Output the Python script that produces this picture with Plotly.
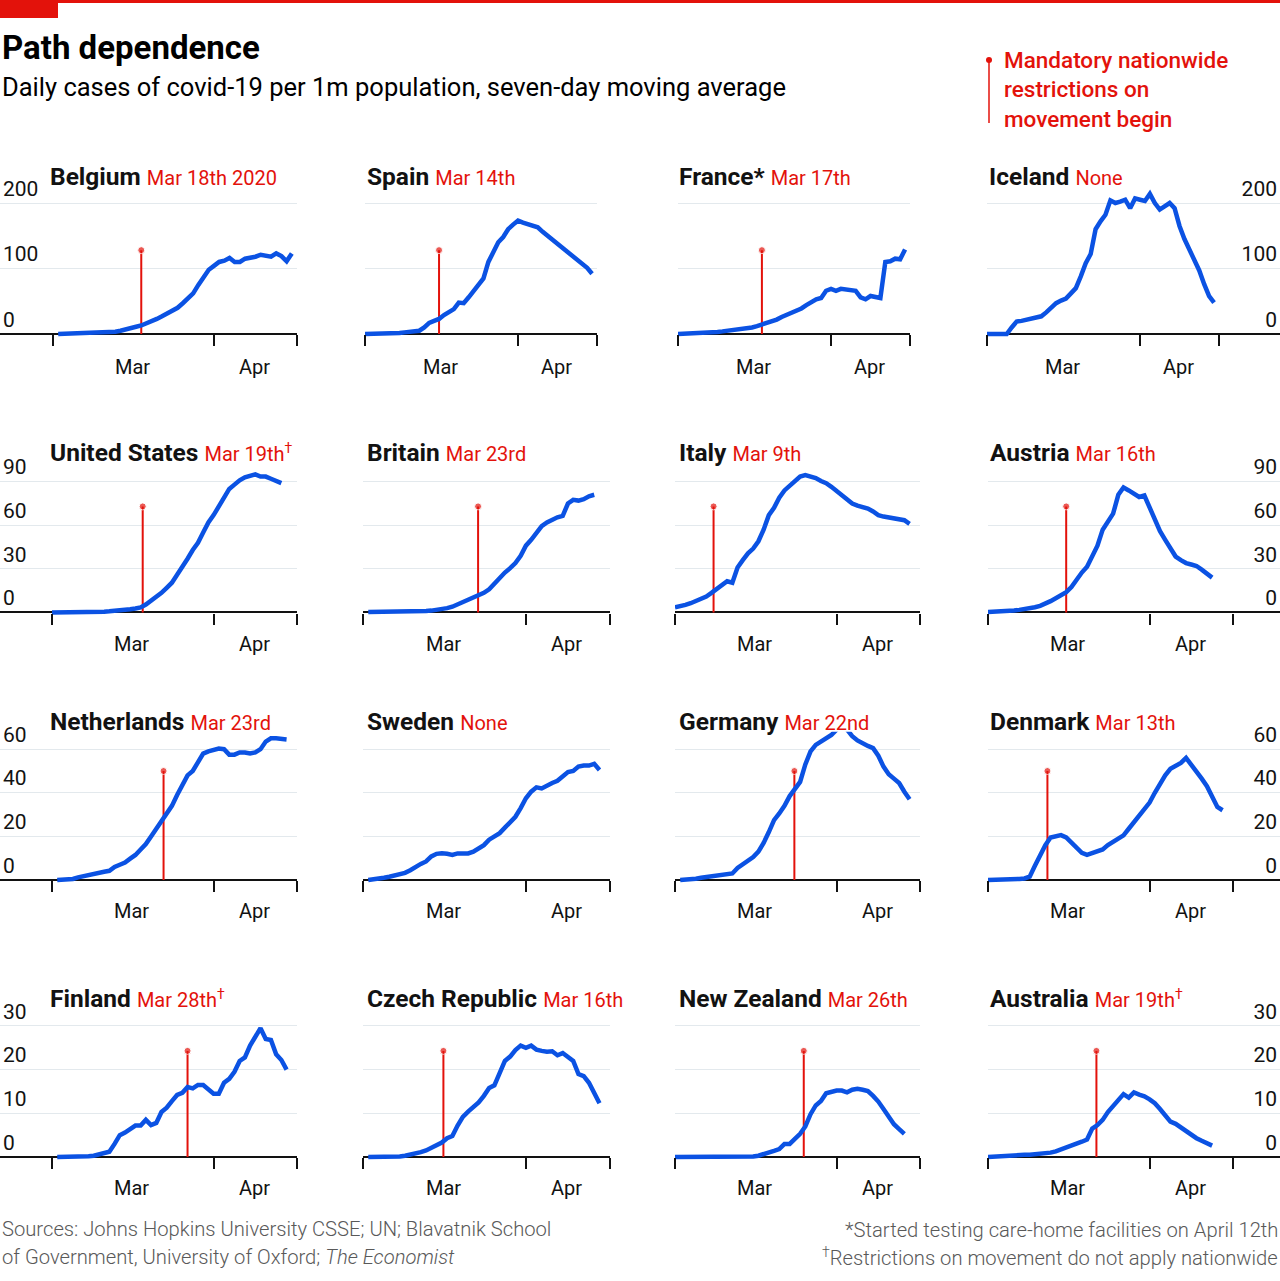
import plotly.graph_objects as go

W, H = 1280, 1281
FONT = "Roboto, sans-serif"
BLUE = "#0b52e3"
RED = "#e3120b"
GRID = "#e3e9ed"
INK = "#121212"
GREY = "#595959"

# ---------------- data (day 0 = March 1st 2020) ----------------
DAYS = list(range(47))
N = None

BELGIUM = [N, 0, 0.3, 0.5, 0.8, 1, 1.2, 1.5, 1.8, 2, 2.3, 2.8, 3.5, 5, 6.5, 8.5, 11, 13, 16, 19,
           23, 27, 31, 35, 40, 47, 54, 62, 75, 88, 98, 104, 110, 112, 116, 110, 110, 115, 116, 118,
           121, 120, 118, 123, 119, 111, 123]
SPAIN = [0, 0, 0.2, 0.3, 0.5, 0.7, 1, 1.5, 2.5, 3.5, 4.5, 5, 10, 17, 20, 23, 29, 33, 38, 48,
         47, 56, 65, 75, 85, 110, 126, 140, 148, 160, 167, 173, 170, 168, 166, 163, 156, 150, 144, 137,
         131, 124, 118, 112, 106, 101, 92]
FRANCE = [0, 0.2, 0.5, 0.8, 1.2, 1.6, 2, 2.6, 3.2, 4, 4.8, 5.5, 6.2, 6.8, 7.5, 10, 12, 14.5, 17, 19,
          22, 26, 29, 32, 35, 39, 44, 49, 53, 55, 66, 69, 66, 69, 68, 67, 66, 56, 53, 58,
          56, 55, 110, 111, 115, 114, 129]
ICELAND = [0, 0, 0, 0, 0, 10, 19, 20, 22, 24, 25, 27, 33, 40, 47, 51, 54, 62, 70, 88,
           108, 122, 160, 172, 182, 204, 200, 202, 205, 192, 207, 205, 203, 214, 200, 190, 195, 200, 192, 165,
           145, 128, 115, 97, 76, 58, 48]
UNITED_STATES = [0, 0, 0, 0.1, 0.1, 0.2, 0.3, 0.3, 0.4, 0.5, 0.6, 0.8, 1, 1.3, 1.7, 2.2, 2.8, 3.5, 5.5, 8,
                 10.5, 13.5, 17, 20.5, 26, 31, 37, 43, 48, 55, 62, 67, 73, 79, 85, 88, 91, 93, 94, 95,
                 93.5, 93.5, 92, 90.5, 89, N, N]
BRITAIN = [N, 0.3, 0.3, 0.3, 0.3, 0.3, 0.4, 0.4, 0.4, 0.5, 0.5, 0.6, 1, 1.3, 1.7, 2.2, 3, 4, 5.5, 7,
           8.7, 10, 12, 13.5, 16, 20, 24.5, 27.5, 30.5, 34, 39, 46, 50, 55, 59.5, 62, 64, 65.5, 66.5, 75,
           77.5, 77, 78, 80, 81, N, N]
ITALY = [3.5, 4.2, 5.2, 6.4, 7.8, 9, 11, 13.5, 16, 18.5, 21.5, 20.5, 31, 36, 40.7, 44, 49, 57, 67, 72,
         79, 84, 87.5, 91, 93.5, 94.5, 93.5, 92.5, 90.5, 89, 86.5, 83.5, 80.5, 77.5, 75, 73.5, 72.5, 71.5, 69.5, 67,
         66, 65.3, 64.8, 64.3, 63.5, 61, N]
AUSTRIA = [0.3, 0.4, 0.6, 0.8, 1, 1.4, 1.8, 2.2, 2.8, 3.6, 4.6, 6, 7.8, 9.8, 11.8, 14, 17.5, 23, 27.5, 31.5,
           38, 46, 57, 63, 68, 81, 86, 84, 81.5, 79.5, 80.5, 72, 63, 56, 50, 43.5, 38.5, 36, 34, 33,
           32, 29.5, 27, 24, N, N, N]
NETHERLANDS = [N, 0, 0, 0, 0.5, 1.2, 1.8, 2.3, 2.8, 3.3, 3.8, 4.2, 6, 7, 8, 9.8, 11.5, 14, 16.5, 20,
               23.5, 27, 31, 34, 39, 44, 48, 50, 54, 58, 59, 59.5, 60.3, 60, 57.5, 57.5, 58.5, 58.5, 58, 58.5,
               60, 63.5, 65, 65, 65, 64.5, N]
SWEDEN = [N, 0, 0.2, 0.5, 1, 1.5, 2, 2.6, 3.3, 4.5, 6.2, 7.4, 8.5, 10.8, 12, 12.3, 12, 11.5, 12.2, 12,
          12.2, 13, 14.5, 16, 18.5, 20, 21.5, 24, 26.5, 29, 33, 37.5, 40.5, 42.5, 42, 43.5, 44.5, 45.5, 47.5, 49.5,
          50, 52, 52.5, 52.5, 53.3, 50.5, N]
GERMANY = [N, 0, 0.1, 0.3, 0.6, 1, 1.3, 1.5, 1.7, 2, 2.5, 3, 5.5, 7, 8.5, 10.5, 13, 17, 22, 27.5,
           30.5, 34, 38.5, 41.5, 45, 53, 59, 62, 63.5, 65, 66.5, 69, 71, 69, 66, 64, 62.5, 61.5, 60.5, 57,
           52, 48.5, 46.5, 44.5, 40.5, 37, N]
DENMARK = [0, 0, 0, 0, 0.1, 0.3, 0.5, 0.7, 1.5, 6.5, 11.5, 16, 19.5, 20.2, 20.6, 19.5, 17, 14.5, 12.5, 11.5,
           12.5, 13, 14, 16, 17.5, 19, 20.5, 23.5, 26.5, 29.5, 32.5, 35.5, 40, 44.5, 48, 51, 52.5, 53.7, 56, 53,
           50, 46.5, 43, 38, 33.5, 32, N]
FINLAND = [N, 0, 0, 0, 0.1, 0.1, 0.2, 0.2, 0.3, 0.6, 1, 1.2, 3, 5, 5.6, 6.4, 7.2, 7.2, 8.5, 7.3,
           7.8, 10.3, 11.3, 12.8, 14.2, 14.7, 16, 15.7, 16.5, 16.5, 15.5, 14.5, 14.5, 17, 17.9, 19.5, 22, 22.8, 25.5, 27.5,
           29.5, 27, 26.8, 23.5, 22.2, 20, N]
CZECH_REPUBLIC = [N, 0, 0, 0, 0, 0, 0, 0.1, 0.3, 0.5, 0.8, 1.1, 1.5, 2.1, 2.7, 3.3, 4.3, 4.8, 7.2, 9.2,
                  10.4, 11.5, 12.5, 14, 15.8, 16.4, 19.5, 22, 23, 24.5, 25.5, 25, 25.5, 24.6, 24.3, 24.1, 24.2, 23.3, 23.8, 23,
                  22, 19, 18.5, 17, 14.5, 12.3, N]
NEW_ZEALAND = [0, 0, 0, 0, 0, 0, 0, 0, 0, 0, 0, 0, 0, 0, 0.05, 0.1, 0.3, 0.6, 1, 1.4,
               1.8, 3, 3, 4.2, 5.3, 7, 9.8, 11.8, 12.8, 14.6, 14.9, 15.2, 15.2, 14.8, 15.4, 15.6, 15.4, 15.1, 14, 12.7,
               11, 9.2, 7.5, 6.4, 5.3, N, N]
AUSTRALIA = [0, 0.1, 0.2, 0.3, 0.3, 0.4, 0.4, 0.5, 0.5, 0.6, 0.6, 0.8, 1, 1.3, 1.7, 2.1, 2.5, 3, 3.5, 4,
             6.5, 7.3, 8.5, 10.3, 11.8, 13.2, 14.4, 13.6, 14.8, 14.3, 13.9, 13.2, 12.3, 11, 9.5, 8.1, 7.6, 6.7, 5.8, 5,
             4.3, 3.7, 3.1, 2.6, N, N, N]

COUNTRIES = ["Belgium", "Spain", "France*", "Iceland",
             "United States", "Britain", "Italy", "Austria",
             "Netherlands", "Sweden", "Germany", "Denmark",
             "Finland", "Czech Republic", "New Zealand", "Australia"]
DATE_LABELS = ["Mar 18th 2020", "Mar 14th", "Mar 17th", "None",
               "Mar 19th<sup>†</sup>", "Mar 23rd", "Mar 9th", "Mar 16th",
               "Mar 23rd", "None", "Mar 22nd", "Mar 13th",
               "Mar 28th<sup>†</sup>", "Mar 16th", "Mar 26th", "Mar 19th<sup>†</sup>"]
SERIES = [BELGIUM, SPAIN, FRANCE, ICELAND,
          UNITED_STATES, BRITAIN, ITALY, AUSTRIA,
          NETHERLANDS, SWEDEN, GERMANY, DENMARK,
          FINLAND, CZECH_REPUBLIC, NEW_ZEALAND, AUSTRALIA]
# day (from March 1st) at which the restriction marker is drawn
RESTRICTION_DAY = [17.0, 15.0, 17.0, None,
                   17.4, 21.9, 7.4, 15.0,
                   21.4, None, 22.9, 11.4,
                   26.0, 15.3, 24.7, 20.8]

Y_TICKS = [[0, 100, 200], [0, 30, 60, 90], [0, 20, 40, 60], [0, 10, 20, 30]]
MARKER_TOP = [128, 73, 50, 24.3]
X_TICKS = [0, 31, 47]
MONTH_LABELS = ["Mar", "Apr"]
MONTH_LABEL_DAY = [15.3, 38.8]

# ---------------- layout geometry (pixels) ----------------
ROWS = [dict(zero=334.0, ppu=0.655, lo=-5.0, hi=235.0, title=176, month=367),
        dict(zero=612.5, ppu=1.4533, lo=-2.5, hi=98.0, title=453, month=644),
        dict(zero=880.0, ppu=2.18, lo=-1.6, hi=68.0, title=721, month=911),
        dict(zero=1157.0, ppu=4.367, lo=-0.8, hi=33.0, title=998, month=1188)]
# (left px, right px, x range lo, x range hi, title x)
COLS_ROW1 = [(0, 297, -10.21, 47, 48), (365, 597, 0, 47, 365),
             (678, 910, 0, 47, 677), (987, 1280, 0, 59.36, 987)]
COLS_OTHER = [(0, 297, -9.98, 47, 48), (363, 610, 0, 47, 365),
              (675, 920, 0, 47, 677), (988, 1280, 0, 56.02, 988)]


def px(x):
    return x / W


def py(y):
    return 1 - y / H


fig = go.Figure()
annotations = []
shapes = []
layout_axes = {}

for i, (name, date, vals, rday) in enumerate(zip(COUNTRIES, DATE_LABELS, SERIES, RESTRICTION_DAY)):
    r, c = divmod(i, 4)
    row = ROWS[r]
    cols = COLS_ROW1 if r == 0 else COLS_OTHER
    left, right, xlo, xhi, tx = cols[c]
    n = i + 1
    xa = "x" if n == 1 else f"x{n}"
    ya = "y" if n == 1 else f"y{n}"
    xkey = "xaxis" if n == 1 else f"xaxis{n}"
    ykey = "yaxis" if n == 1 else f"yaxis{n}"

    top_px = row["zero"] - row["hi"] * row["ppu"]
    bot_px = row["zero"] - row["lo"] * row["ppu"]

    layout_axes[xkey] = dict(
        domain=[px(left), px(right)], range=[xlo, xhi], anchor="free", position=py(row["zero"]),
        showgrid=False, zeroline=False, showline=False,
        tickmode="array", tickvals=X_TICKS,
        ticks="outside", ticklen=11, tickwidth=2, tickcolor=INK, showticklabels=False,
        fixedrange=True, automargin=False,
    )
    yax = dict(
        domain=[py(bot_px), py(top_px)], range=[row["lo"], row["hi"]], anchor=xa,
        tickmode="array", tickvals=Y_TICKS[r],
        showgrid=True, gridcolor=GRID, gridwidth=1,
        zeroline=True, zerolinecolor=INK, zerolinewidth=2,
        showline=False, ticks="", fixedrange=True, automargin=False,
    )
    if c in (0, 3):
        yax.update(side="right" if c == 3 else "left", showticklabels=True,
                   ticklabelposition="inside top", ticklabeloverflow="allow",
                   tickfont=dict(family=FONT, size=21, color=INK))
    else:
        yax.update(showticklabels=False)
    layout_axes[ykey] = yax

    if rday is not None:
        fig.add_trace(go.Scatter(
            x=[rday, rday], y=[0, MARKER_TOP[r]], mode="lines+markers",
            line=dict(color=RED, width=2), marker=dict(size=[0, 7], color=RED),
            xaxis=xa, yaxis=ya, hoverinfo="skip", showlegend=False))
    fig.add_trace(go.Scatter(
        x=DAYS, y=vals, mode="lines", line=dict(color=BLUE, width=4.5),
        connectgaps=False, xaxis=xa, yaxis=ya, hoverinfo="skip", showlegend=False))

    annotations.append(dict(
        xref="paper", yref="paper", x=px(tx), y=py(row["title"]), xanchor="left", yanchor="middle",
        showarrow=False,
        text=f"<b>{name}</b> <span style='color:{RED};font-size:20px'>{date}</span>",
        font=dict(family=FONT, size=24.5, color=INK)))
    for lab, d in zip(MONTH_LABELS, MONTH_LABEL_DAY):
        annotations.append(dict(
            xref=xa, yref="paper", x=d, y=py(row["month"]), xanchor="center", yanchor="middle",
            showarrow=False, text=lab, font=dict(family=FONT, size=20, color=INK)))

# header
annotations += [
    dict(xref="paper", yref="paper", x=0, y=py(47), xanchor="left", yanchor="middle", showarrow=False,
         text="<b>Path dependence</b>", font=dict(family=FONT, size=33, color="#000")),
    dict(xref="paper", yref="paper", x=0, y=py(87), xanchor="left", yanchor="middle", showarrow=False,
         text="Daily cases of covid-19 per 1m population, seven-day moving average",
         font=dict(family=FONT, size=25.5, color="#000")),
    dict(xref="paper", yref="paper", x=px(1002), y=py(45), xanchor="left", yanchor="top", showarrow=False,
         align="left", text="Mandatory nationwide<br>restrictions on<br>movement begin",
         font=dict(family=FONT, size=22.5, color=RED, weight=500)),
    dict(xref="paper", yref="paper", x=0, y=py(1229), xanchor="left", yanchor="middle", showarrow=False,
         text="Sources: Johns Hopkins University CSSE; UN; Blavatnik School",
         font=dict(family=FONT, size=20.2, color=GREY, weight=300)),
    dict(xref="paper", yref="paper", x=0, y=py(1257), xanchor="left", yanchor="middle", showarrow=False,
         text="of Government, University of Oxford; <i>The Economist</i>",
         font=dict(family=FONT, size=20.2, color=GREY, weight=300)),
    dict(xref="paper", yref="paper", x=1, y=py(1230), xanchor="right", yanchor="middle", showarrow=False,
         text="*Started testing care-home facilities on April 12th",
         font=dict(family=FONT, size=20.2, color=GREY, weight=300)),
    dict(xref="paper", yref="paper", x=1, y=py(1257), xanchor="right", yanchor="middle", showarrow=False,
         text="<sup>†</sup>Restrictions on movement do not apply nationwide",
         font=dict(family=FONT, size=20.2, color=GREY, weight=300)),
]

shapes += [
    dict(type="rect", xref="paper", yref="paper", x0=0, x1=1, y0=py(3), y1=1,
         fillcolor=RED, line=dict(width=0)),
    dict(type="rect", xref="paper", yref="paper", x0=0, x1=px(58), y0=py(18), y1=1,
         fillcolor=RED, line=dict(width=0)),
    dict(type="line", xref="paper", yref="paper", x0=px(989), x1=px(989), y0=py(123), y1=py(60),
         line=dict(color=RED, width=1.5)),
    dict(type="circle", xref="paper", yref="paper", x0=px(986), x1=px(992), y0=py(63), y1=py(57),
         fillcolor=RED, line=dict(width=0)),
]

fig.update_layout(
    width=W, height=H, autosize=False,
    margin=dict(l=0, r=0, t=0, b=0, pad=0, autoexpand=False),
    paper_bgcolor="white", plot_bgcolor="white",
    showlegend=False, annotations=annotations, shapes=shapes,
    font=dict(family=FONT, color=INK),
    **layout_axes,
)

# place the fixed-size chart flush with the page corner (no default body margin)
PAGE_FIX = ("document.body.style.margin='0px';document.body.style.overflow='hidden';"
            "var gd=document.getElementById('{plot_id}');gd.style.position='absolute';"
            "gd.style.left='0px';gd.style.top='0px';")

fig.write_html("out.html", post_script=PAGE_FIX, config={"displayModeBar": False})
